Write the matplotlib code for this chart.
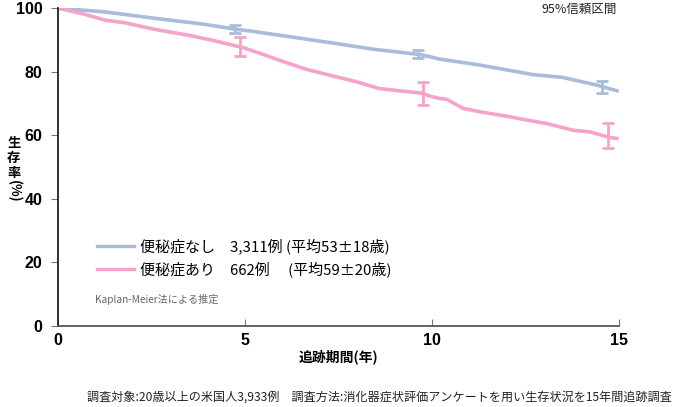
import matplotlib
matplotlib.use("Agg")
import matplotlib.pyplot as plt

plt.rcParams['font.family'] = ['Noto Sans CJK JP', 'DejaVu Sans']

# 便秘症なし (Kaplan-Meier, 読み取り値)
nashi_t = [0, 1.26, 2.6, 3.93, 4.73, 5.27, 6.2, 7.54, 8.42, 9.68, 9.95, 10.2,
           11.28, 12.7, 13.5, 14.41, 14.95]
nashi_s = [100, 98.8, 96.8, 94.9, 93.4, 92.6, 91.0, 88.7, 87.1, 85.4, 84.7, 84.0,
           82.1, 79.1, 78.2, 75.8, 74.0]

# 便秘症あり
ari_t = [0, 0.45, 0.8, 1.26, 1.79, 2.6, 3.48, 4.2, 4.87, 5.0, 5.27, 5.4, 6.02, 6.66,
         7.27, 8.0, 8.42, 8.6, 9.06, 9.76, 9.95, 10.2, 10.4, 10.83, 11.28, 12.0,
         12.54, 13.07, 13.77, 14.22, 14.76, 14.95]
ari_s = [100, 98.8, 97.8, 96.2, 95.4, 93.3, 91.5, 89.7, 87.8, 87.4, 86.3, 85.8, 83.2, 80.7,
         78.9, 76.8, 75.3, 74.7, 74.1, 73.2, 72.3, 71.6, 71.3, 68.5, 67.4, 66.0,
         64.8, 63.7, 61.6, 61.1, 59.3, 59.0]

# 95%信頼区間
nashi_ci_t = [4.73, 9.63, 14.55]
nashi_ci_lo = [92.1, 84.3, 73.4]
nashi_ci_hi = [94.7, 86.8, 77.2]
ari_ci_t = [4.87, 9.76, 14.7]
ari_ci_lo = [84.9, 69.5, 55.9]
ari_ci_hi = [90.9, 76.8, 63.9]

BLUE = '#a9bcd9'
PINK = '#f5a3c9'

fig = plt.figure(figsize=(6.86, 4.07), dpi=100)
ax = fig.add_axes([0.0845, 0.199, 0.8175, 0.781])

# 細かい段差は読み取り点を結んで近似
ax.plot(nashi_t, nashi_s, color=BLUE, lw=2.6,
        label='便秘症なし　3,311例 (平均53±18歳)')
ax.plot(ari_t, ari_s, color=PINK, lw=2.6,
        label='便秘症あり　662例　 (平均59±20歳)')

for t, lo, hi, c in [(nashi_ci_t, nashi_ci_lo, nashi_ci_hi, BLUE),
                     (ari_ci_t, ari_ci_lo, ari_ci_hi, PINK)]:
    mid = [(a + b) / 2 for a, b in zip(lo, hi)]
    err = [[m - a for m, a in zip(mid, lo)], [b - m for m, b in zip(mid, hi)]]
    ax.errorbar(t, mid, yerr=err, fmt='none', ecolor=c, elinewidth=2,
                capsize=4.5, capthick=2)

ax.set_xlim(0, 15)
ax.set_ylim(0, 100)
ax.set_xticks([0, 5, 10, 15])
ax.set_yticks([0, 20, 40, 60, 80, 100])
ax.spines['top'].set_visible(False)
ax.spines['right'].set_visible(False)
ax.spines['left'].set_color('#222222')
ax.spines['bottom'].set_color('#555555')
ax.spines['left'].set_linewidth(1.3)
ax.spines['bottom'].set_linewidth(1.3)
ax.tick_params(axis='x', direction='in', length=5, color='#777777', pad=5,
               labelsize=11.5)
ax.tick_params(axis='y', direction='out', length=5, color='#777777', pad=6,
               labelsize=11.5)
for lab in ax.get_xticklabels() + ax.get_yticklabels():
    lab.set_fontweight('bold')
    lab.set_family('Liberation Sans')

ax.set_xlabel('追跡期間(年)', fontsize=10, fontweight='bold', labelpad=1)

# 縦書きの軸ラベル
H = 407
for ch, py in [('生', 143.5), ('存', 158), ('率', 172.5)]:
    fig.text(0.020, 1 - py / H, ch, fontsize=9.5, fontweight='bold',
             ha='center', va='center')
fig.text(0.020, 1 - 191 / H, '(%)', fontsize=9.5, fontweight='bold',
         rotation=-90, ha='center', va='center')

fig.text(0.899, 1 - 9 / H, '95%信頼区間', fontsize=9,
         ha='right', va='center', color='#222222')

leg = ax.legend(loc='lower left', bbox_to_anchor=(0.045, 0.11), frameon=False,
                fontsize=10.8, handlelength=2.5, handletextpad=0.4,
                labelspacing=0.5)
for h in leg.legend_handles:
    h.set_linewidth(2.4)

ax.text(0.066, 0.083, 'Kaplan-Meier法による推定', transform=ax.transAxes,
        fontsize=7.3, color='#666666', ha='left', va='center')

fig.text(0.98, 0.025, '調査対象:20歳以上の米国人3,933例　調査方法:消化器症状評価アンケートを用い生存状況を15年間追跡調査',
         fontsize=8.7, ha='right', va='center', color='#222222')

fig.savefig('out.png', dpi=100)
